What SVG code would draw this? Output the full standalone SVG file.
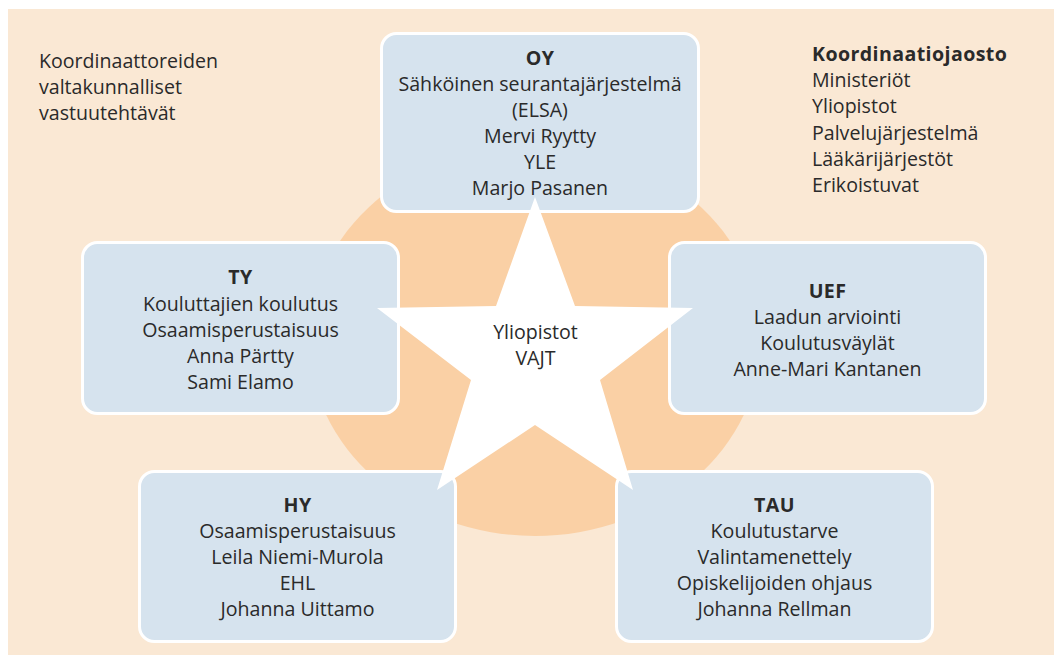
<svg xmlns="http://www.w3.org/2000/svg" width="1054" height="655" viewBox="0 0 1054 655">
<style>
.bg{fill:#fae8d4}
.circle{fill:#fad0a5}
.box{fill:#d6e3ee;stroke:#ffffff;stroke-width:3}
.t{font-family:"Open Sans","Noto Sans","DejaVu Sans",sans-serif;font-size:19.6px;fill:#2a2a2a}
.c{text-anchor:middle}
.b{font-weight:bold;letter-spacing:0.4px}
.star{fill:#ffffff}
</style>
<rect class="bg" x="8" y="9" width="1046" height="646"/>
<ellipse class="circle" cx="535" cy="340" rx="226" ry="196"/>
<g id="note-left">
<text class="t" x="39" y="68">Koordinaattoreiden</text>
<text class="t" x="39" y="94">valtakunnalliset</text>
<text class="t" x="39" y="120">vastuutehtävät</text>
</g>
<g id="note-right">
<text class="t b" x="812" y="61">Koordinaatiojaosto</text>
<text class="t" x="812" y="87">Ministeriöt</text>
<text class="t" x="812" y="113">Yliopistot</text>
<text class="t" x="812" y="140">Palvelujärjestelmä</text>
<text class="t" x="812" y="166">Lääkärijärjestöt</text>
<text class="t" x="812" y="192">Erikoistuvat</text>
</g>
<g id="connectors"></g>
<g id="node-oy">
<rect class="box" x="381.5" y="33.5" width="317" height="178" rx="15"/>
<text class="t c b" x="540" y="65">OY</text>
<text class="t c" x="540" y="91">Sähköinen seurantajärjestelmä</text>
<text class="t c" x="540" y="117">(ELSA)</text>
<text class="t c" x="540" y="143">Mervi Ryytty</text>
<text class="t c" x="540" y="169">YLE</text>
<text class="t c" x="540" y="195">Marjo Pasanen</text>
</g>
<g id="node-ty">
<rect class="box" x="82.5" y="242.5" width="316" height="171" rx="15"/>
<text class="t c b" x="240.5" y="284">TY</text>
<text class="t c" x="240.5" y="311">Kouluttajien koulutus</text>
<text class="t c" x="240.5" y="337">Osaamisperustaisuus</text>
<text class="t c" x="240.5" y="363">Anna Pärtty</text>
<text class="t c" x="240.5" y="389">Sami Elamo</text>
</g>
<g id="node-uef">
<rect class="box" x="669.5" y="242.5" width="316" height="171" rx="15"/>
<text class="t c b" x="827.5" y="298">UEF</text>
<text class="t c" x="827.5" y="324">Laadun arviointi</text>
<text class="t c" x="827.5" y="350">Koulutusväylät</text>
<text class="t c" x="827.5" y="376">Anne-Mari Kantanen</text>
</g>
<g id="node-hy">
<rect class="box" x="139.5" y="471.5" width="316" height="170" rx="15"/>
<text class="t c b" x="297.5" y="512">HY</text>
<text class="t c" x="297.5" y="538">Osaamisperustaisuus</text>
<text class="t c" x="297.5" y="564">Leila Niemi-Murola</text>
<text class="t c" x="297.5" y="590">EHL</text>
<text class="t c" x="297.5" y="616">Johanna Uittamo</text>
</g>
<g id="node-tau">
<rect class="box" x="616.5" y="471.5" width="316" height="170" rx="15"/>
<text class="t c b" x="774.5" y="512">TAU</text>
<text class="t c" x="774.5" y="538">Koulutustarve</text>
<text class="t c" x="774.5" y="564">Valintamenettely</text>
<text class="t c" x="774.5" y="590">Opiskelijoiden ohjaus</text>
<text class="t c" x="774.5" y="616">Johanna Rellman</text>
</g>
<g id="node-star">
<polygon class="star" points="535,197 575,306 693,308 600,380 633,490 535,425 437,490 471,380 377,308 496,306"/>
<text class="t c" x="535.5" y="339">Yliopistot</text>
<text class="t c" x="535.5" y="365">VAJT</text>
</g>
</svg>
